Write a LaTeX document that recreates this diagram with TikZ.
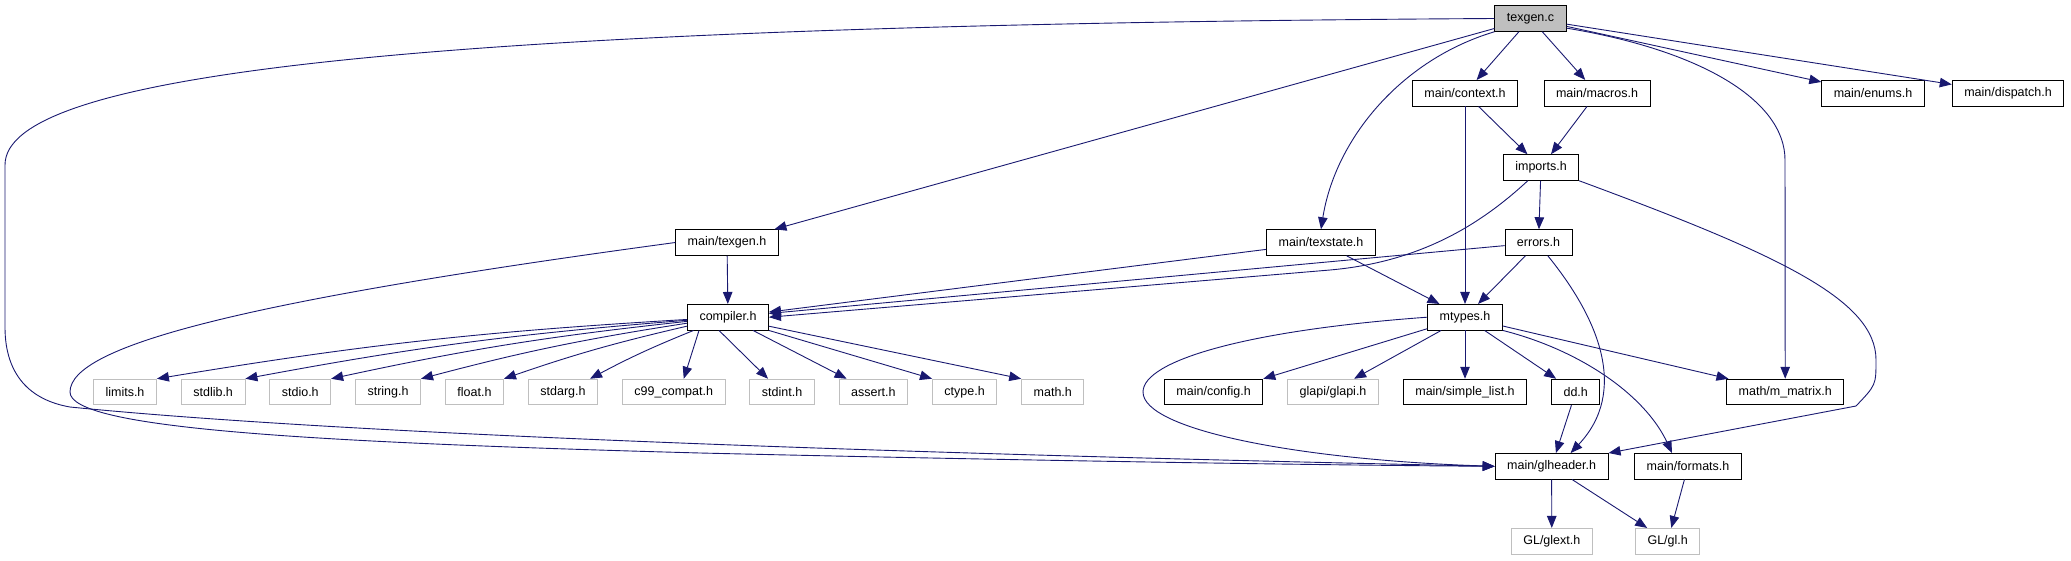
\documentclass[tikz,border=0pt]{standalone}
\usepackage{fontspec}
\setmainfont{Liberation Sans}
\usetikzlibrary{arrows.meta, positioning}
\definecolor{edgeblue}{HTML}{191970}
\definecolor{sysgray}{HTML}{BFBFBF}

\begin{document}
\begin{tikzpicture}[x=1pt, y=-1pt,
    hfile/.style={rectangle, draw=black, line width=0.9pt, fill=white,
                  minimum height=25.6pt, inner xsep=12pt, inner ysep=2pt,
                  font=\fontsize{12.5}{14}\selectfont, text=black},
    sysfile/.style={hfile, draw=sysgray},
    srcfile/.style={hfile, fill=sysgray},
    inc/.style={draw=edgeblue, line width=0.9pt, -{Triangle[length=12pt, width=9.5pt]}},
    node distance=24pt,
  ]
  \useasboundingbox (0,0) rectangle (2071,560);

  \node[srcfile] (texgenc) at (1530.5,18.5) {texgen.c};
  \node[hfile] (context) at (1465,93.2) {main/context.h};
  \node[hfile] (macros) at (1597,93.2) {main/macros.h};
  \node[hfile] (enums) at (1873,93.2) {main/enums.h};
  \node[hfile] (dispatch) at (2008,93.2) {main/dispatch.h};
  \node[hfile] (imports) at (1541,167.5) {imports.h};
  \node[hfile] (texgenh) at (727,242.5) {main/texgen.h};
  \node[hfile] (texstate) at (1321,242.5) {main/texstate.h};
  \node[hfile] (errors) at (1538.5,242.5) {errors.h};
  \node[hfile] (compiler) at (728,317.2) {compiler.h};
  \node[hfile] (mtypes) at (1465,317.2) {mtypes.h};

  \node[sysfile] (limits) at (125,392) {limits.h};
  \node[sysfile, right=of limits] (stdlib) {stdlib.h};
  \node[sysfile, right=of stdlib] (stdio) {stdio.h};
  \node[sysfile, right=of stdio] (string) {string.h};
  \node[sysfile, right=of string] (float) {float.h};
  \node[sysfile, right=of float] (stdarg) {stdarg.h};
  \node[sysfile, right=of stdarg] (c99) {c99\_compat.h};
  \node[sysfile, right=of c99] (stdint) {stdint.h};
  \node[sysfile, right=of stdint] (assert) {assert.h};
  \node[sysfile, right=of assert] (ctype) {ctype.h};
  \node[sysfile, right=of ctype] (math) {math.h};

  \node[hfile] (slist) at (1465,392) {main/simple\_list.h};
  \node[sysfile, left=of slist] (glapi) {glapi/glapi.h};
  \node[hfile, left=of glapi] (config) {main/config.h};
  \node[hfile, right=of slist] (dd) {dd.h};
  \node[hfile] (mmatrix) at (1785.2,392) {math/m\_matrix.h};

  \node[hfile] (glheader) at (1551.6,466.3) {main/glheader.h};
  \node[hfile] (formats) at (1688,466.3) {main/formats.h};
  \node[sysfile] (glext) at (1551.8,541.2) {GL/glext.h};
  \node[sysfile] (gl) at (1667.7,541.2) {GL/gl.h};

  \draw[inc] (texgenc.west) .. controls (400,25) and (5,75) .. (5,165) -- (5,327)
    .. controls (5,375) and (30,400) .. (70,407)
    .. controls (400,440) and (1100,458) .. (glheader.west);
  \draw[inc] (texgenc) -- (texgenh);
  \draw[inc] (texgenc.south west) .. controls (1400,60) and (1335,140) .. (texstate.north);
  \draw[inc] (texgenc) -- (context);
  \draw[inc] (texgenc) -- (macros);
  \draw[inc] (texgenc) -- (enums);
  \draw[inc] (texgenc) -- (dispatch);
  \draw[inc] (texgenc.-15) .. controls (1700,50) and (1785,100) .. (1785,160) -- (mmatrix.north);

  \draw[inc] (context) -- (imports);
  \draw[inc] (context) -- (mtypes);
  \draw[inc] (macros) -- (imports);
  \draw[inc] (imports) -- (errors);
  \draw[inc] (imports.225) .. controls (1480,225) and (1420,262) .. (1330,270) -- (compiler.east);
  \draw[inc] (imports.south east) .. controls (1780,255) and (1876,300) .. (1876,360)
    .. controls (1876,385) .. (1856,406) -- (glheader.north east);
  \draw[inc] (errors) -- (compiler);
  \draw[inc] (errors) -- (mtypes);
  \draw[inc] (errors.-55) .. controls (1600,320) and (1628,392) .. ([xshift=19pt]glheader.north);

  \draw[inc] (texgenh) -- (compiler);
  \draw[inc] (texgenh.west) .. controls (250,300) and (70,345) .. (70,392)
    .. controls (70,428) and (300,442) .. (700,453)
    .. controls (1000,460) and (1300,465) .. (glheader.west);
  \draw[inc] (texstate) -- (compiler);
  \draw[inc] (texstate) -- (mtypes);

  \draw[inc] (compiler) to[bend right=3] (limits.north east);
  \draw[inc] (compiler) to[bend right=3] (stdlib.north east);
  \draw[inc] (compiler) to[bend right=3] (stdio.north east);
  \draw[inc] (compiler) to[bend right=3] (string.north east);
  \draw[inc] (compiler) to[bend right=3] (float.north east);
  \draw[inc] (compiler) to[bend right=3] ([xshift=-8pt]stdarg.north east);
  \draw[inc] ([xshift=-29pt]compiler.south) -- ([xshift=10pt]c99.north);
  \draw[inc] ([xshift=-9pt]compiler.south) -- ([xshift=-14pt]stdint.north);
  \draw[inc] ([xshift=25pt]compiler.south) -- ([xshift=8pt]assert.north west);
  \draw[inc] (compiler.south east) -- (ctype.north west);
  \draw[inc] ([yshift=-9pt]compiler.east) -- (math.north west);

  \draw[inc] (mtypes.west) .. controls (1250,330) and (1143,360) .. (1143,392)
    .. controls (1143,430) and (1300,460) .. (glheader.west);
  \draw[inc] (mtypes) -- (config.north east);
  \draw[inc] (mtypes) -- ([xshift=21pt]glapi.north);
  \draw[inc] (mtypes) -- (slist);
  \draw[inc] (mtypes) -- (dd);
  \draw[inc] (mtypes.south east) .. controls (1580,350) and (1645,395) .. ([xshift=-16pt]formats.north);
  \draw[inc] (mtypes) -- (mmatrix);

  \draw[inc] (dd) -- (glheader);
  \draw[inc] (glheader) -- (glext);
  \draw[inc] (glheader) -- (gl);
  \draw[inc] (formats) -- (gl);
\end{tikzpicture}
\end{document}
